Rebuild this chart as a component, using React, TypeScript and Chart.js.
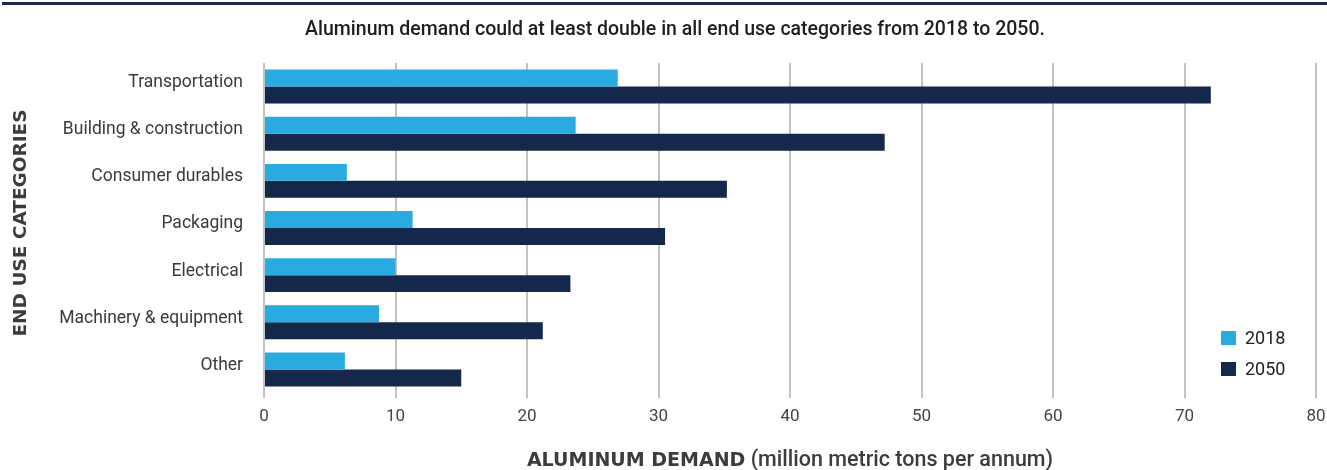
import { useEffect, useRef } from "react";
import { Chart, registerables } from "chart.js";

Chart.register(...registerables);

const categories = [
  "Transportation",
  "Building & construction",
  "Consumer durables",
  "Packaging",
  "Electrical",
  "Machinery & equipment",
  "Other",
];
const values2018 = [26.9, 23.7, 6.3, 11.3, 10.0, 8.75, 6.15];
const values2050 = [72.0, 47.2, 35.2, 30.5, 23.3, 21.2, 15.0];
const seriesLabels = ["2018", "2050"];
const seriesColors = ["#29aae1", "#13284a"];
const xMin = 0;
const xMax = 80;
const xStep = 10;
const titleText = "Aluminum demand could at least double in all end use categories from 2018 to 2050.";
const xTitleBold = "ALUMINUM DEMAND";
const xTitleRest = " (million metric tons per annum)";
const yTitle = "END USE CATEGORIES";

const FONT = "Roboto, 'Noto Sans', sans-serif";
const WIDE = "'DejaVu Sans', Verdana, sans-serif";

const decorPlugin = {
  id: "decor",
  afterDraw(chart: any) {
    const ctx = chart.ctx as CanvasRenderingContext2D;
    const area = chart.chartArea;
    ctx.save();
    // top rule
    ctx.fillStyle = "#1c2b4b";
    ctx.fillRect(2, 2, chart.width - 2, 3);

    // main title
    ctx.fillStyle = "#1e1e1e";
    ctx.font = `500 19.5px ${FONT}`;
    ctx.textAlign = "center";
    ctx.textBaseline = "middle";
    ctx.fillText(titleText, 675, 30);

    // x axis title (bold + regular)
    ctx.fillStyle = "#3c3c3c";
    ctx.textBaseline = "middle";
    ctx.textAlign = "left";
    const boldFont = `700 19px ${WIDE}`;
    const restFont = `500 21.5px ${FONT}`;
    ctx.font = boldFont;
    const wb = ctx.measureText(xTitleBold).width;
    ctx.font = restFont;
    const wr = ctx.measureText(xTitleRest).width;
    const cx = (area.left + area.right) / 2;
    const x0 = cx - (wb + wr) / 2;
    ctx.font = boldFont;
    ctx.fillText(xTitleBold, x0, 461);
    ctx.font = restFont;
    ctx.fillText(xTitleRest, x0 + wb, 461);

    // y axis title
    ctx.save();
    ctx.translate(21, 223);
    ctx.rotate(-Math.PI / 2);
    ctx.font = `700 18.5px ${WIDE}`;
    ctx.textAlign = "center";
    ctx.textBaseline = "middle";
    ctx.fillStyle = "#3c3c3c";
    ctx.fillText(yTitle, 0, 0);
    ctx.restore();

    // legend (inside plot, bottom right)
    const items = chart.data.datasets;
    const ys = [338, 369];
    ctx.font = `400 18px ${FONT}`;
    ctx.textAlign = "left";
    ctx.textBaseline = "middle";
    items.forEach((ds: any, i: number) => {
      ctx.fillStyle = ds.backgroundColor;
      ctx.fillRect(1221, ys[i] - 7, 15, 14);
      ctx.fillStyle = "#222222";
      ctx.fillText(ds.label, 1245, ys[i] + 1);
    });
    ctx.restore();
  },
};

export default function App() {
  const ref = useRef<HTMLCanvasElement | null>(null);

  useEffect(() => {
    document.body.style.margin = "0";
    const canvas = ref.current;
    if (!canvas) return;
    const chart = new Chart(canvas, {
      type: "bar",
      data: {
        labels: categories,
        datasets: [
          {
            label: seriesLabels[0],
            data: values2018,
            backgroundColor: seriesColors[0],
            categoryPercentage: 0.72,
            barPercentage: 1.0,
          },
          {
            label: seriesLabels[1],
            data: values2050,
            backgroundColor: seriesColors[1],
            categoryPercentage: 0.72,
            barPercentage: 1.0,
          },
        ],
      },
      options: {
        indexAxis: "y",
        responsive: false,
        animation: false,
        layout: { padding: { top: 63, right: 11, left: 0, bottom: 0 } },
        plugins: {
          legend: { display: false },
          title: { display: false },
          tooltip: { enabled: false },
        },
        scales: {
          x: {
            min: xMin,
            max: xMax,
            ticks: {
              stepSize: xStep,
              color: "#444444",
              font: { family: FONT, size: 17 },
              padding: 9,
            },
            grid: {
              color: "#c2c2c2",
              lineWidth: 2,
              drawTicks: true,
              tickLength: 5,
            },
            border: { display: false },
            afterFit(scale: any) {
              scale.height = 77;
              scale.paddingRight = 0;
              scale.paddingLeft = 0;
            },
          },
          y: {
            ticks: {
              color: "#3a3a3a",
              font: { family: FONT, size: 17.5 },
              padding: 21,
              labelOffset: -4,
            },
            grid: { display: false, drawTicks: false },
            border: { display: false },
            afterFit(scale: any) {
              scale.width = 264;
              scale.paddingTop = 0;
              scale.paddingBottom = 0;
            },
          },
        },
      },
      plugins: [decorPlugin],
    });
    return () => chart.destroy();
  }, []);

  return (
    <div style={{ width: 1327, height: 470, background: "#ffffff" }}>
      <canvas ref={ref} width={1327} height={470} />
    </div>
  );
}
